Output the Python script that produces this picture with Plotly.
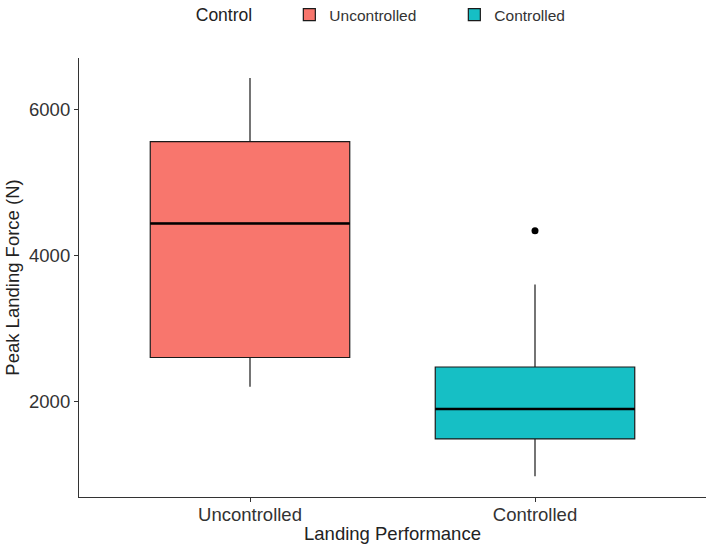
import plotly.graph_objects as go

groups = ["Uncontrolled", "Controlled"]
colors = ["#F8766D", "#16BFC5"]
q1 = [2600, 1485]
median = [4435, 1895]
q3 = [5555, 2470]
lower = [2200, 975]
upper = [6425, 3600]
outliers = [[], [4335]]

fig = go.Figure()
half = 0.35
for i, g in enumerate(groups):
    fig.add_trace(go.Box(
        x=[i], q1=[q1[i]], median=[median[i]], q3=[q3[i]],
        lowerfence=[lower[i]], upperfence=[upper[i]],
        name=g, fillcolor=colors[i], width=2 * half, whiskerwidth=0,
        line=dict(color="#1a1a1a", width=1.2), boxpoints=False,
        hoverinfo="skip",
    ))
for i, g in enumerate(groups):
    fig.add_trace(go.Scatter(
        x=[i - half, i + half], y=[median[i], median[i]], mode="lines",
        line=dict(color="black", width=2.6), showlegend=False, hoverinfo="skip",
    ))
    if outliers[i]:
        fig.add_trace(go.Scatter(
            x=[i] * len(outliers[i]), y=outliers[i], mode="markers",
            marker=dict(color="black", size=7), showlegend=False, hoverinfo="skip",
        ))

fig.update_layout(
    width=709, height=550,
    margin=dict(l=79, r=3, t=58, b=53, autoexpand=False),
    plot_bgcolor="white", paper_bgcolor="white",
    font=dict(family="Liberation Sans, Arial, sans-serif", color="#333333"),
    boxmode="overlay",
    showlegend=True,
    legend=dict(
        orientation="h", x=0.183, xanchor="left", y=1.098, yanchor="middle",
        title=dict(text="Control\u00a0\u00a0\u00a0\u00a0\u00a0\u00a0", font=dict(size=17.5, color="#222222")),
        font=dict(size=15.5, color="#333333"),
        entrywidth=120, entrywidthmode="pixels",
    ),
    xaxis=dict(
        range=[-0.6, 1.6], tickmode="array", tickvals=[0, 1], ticktext=groups,
        showline=True, linecolor="#333333", linewidth=1.2, ticks="outside",
        ticklen=4, tickcolor="#333333", showgrid=False, zeroline=False,
        ticklabelstandoff=-3,
        tickfont=dict(size=18.5, color="#333333"),
        title=dict(text="Landing Performance", font=dict(size=18.5, color="#222222"), standoff=2),
    ),
    yaxis=dict(
        range=[690, 6700], tickvals=[2000, 4000, 6000],
        showline=True, linecolor="#333333", linewidth=1.2, ticks="outside",
        ticklen=4, tickcolor="#333333", showgrid=False, zeroline=False,
        tickfont=dict(size=18.5, color="#333333"),
        title=dict(text="Peak Landing Force (N)", font=dict(size=18.5, color="#222222"), standoff=4),
    ),
)
fig.write_html("out.html")
